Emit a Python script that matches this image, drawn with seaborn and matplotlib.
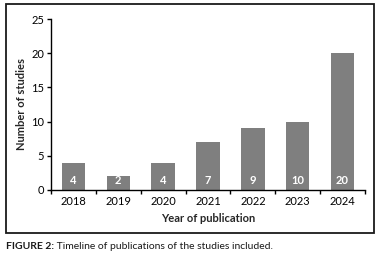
import matplotlib
matplotlib.use("Agg")
import matplotlib.pyplot as plt
import seaborn as sns
import pandas as pd
from matplotlib.patches import Rectangle

years = ["2018", "2019", "2020", "2021", "2022", "2023", "2024"]
counts = [4, 2, 4, 7, 9, 10, 20]
yticks = [0, 5, 10, 15, 20, 25]

sns.set_style("ticks")
plt.rcParams['font.family'] = ['Lato', 'DejaVu Sans']

df = pd.DataFrame({"year": years, "count": counts})

fig = plt.figure(figsize=(3.8, 2.58), dpi=100)
ax = fig.add_axes([51/380, 1-190/258, (365-51)/380, (190-19)/258])

sns.barplot(data=df, x="year", y="count", color="#7f7f7f", saturation=1,
            width=0.52, ax=ax, edgecolor="none")

ax.set_ylim(0, 25)
ax.set_yticks(yticks)
ax.set_xlim(-0.5, 6.5)
ax.set_xticks([i - 0.5 for i in range(len(years) + 1)], minor=False)
ax.set_xticklabels([])
ax.set_xticks(range(len(years)), minor=True)
ax.set_xticklabels(years, minor=True)
ax.tick_params(axis='x', which='minor', length=0, labelsize=8, pad=4, colors='black')
ax.tick_params(axis='x', which='major', length=3, width=1, color='black')
ax.tick_params(axis='y', length=3, width=1, labelsize=8, pad=2, colors='black')

for s in ["top", "right"]:
    ax.spines[s].set_visible(False)
for s in ["left", "bottom"]:
    ax.spines[s].set_linewidth(1)
    ax.spines[s].set_color("black")

for i, v in enumerate(counts):
    ax.text(i, 0.55, str(v), ha='center', va='bottom', color='white',
            fontsize=8, fontweight='bold')

ax.set_xlabel("Year of publication", fontsize=8, fontweight='bold', labelpad=5)
ax.set_ylabel("Number of studies", fontsize=8, fontweight='bold', labelpad=3)

fig.patches.append(Rectangle((6/380, 1-233/258), (374-6)/380, (233-4)/258,
                             transform=fig.transFigure, fill=False,
                             edgecolor='#1a1a1a', linewidth=1.3))

t = fig.text(6/380, 1-249/258, "FIGURE 2:", fontsize=7.5, fontweight='bold', color='#1a1a1a')
ax.annotate(" Timeline of publications of the studies included.", xy=(1, 0),
            xycoords=t, va='bottom', fontsize=7.5, color='#1a1a1a', annotation_clip=False)

fig.savefig("out.png", dpi=100)
